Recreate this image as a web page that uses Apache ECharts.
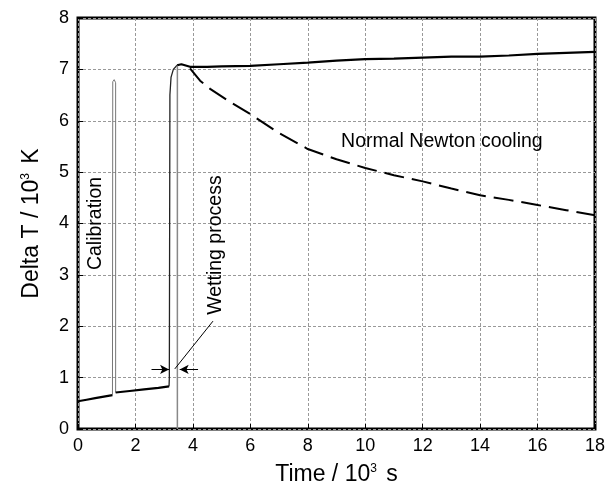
<!DOCTYPE html>
<html>
<head>
<meta charset="utf-8">
<script src="https://cdn.jsdelivr.net/npm/echarts@6/dist/echarts.min.js"></script>
<style>
  html, body { margin: 0; padding: 0; background: #fff; }
  #chart { width: 608px; height: 492px; }
</style>
</head>
<body>
<div id="chart"></div>
<script>
// time in 10^3 s, delta T in 10^3 K
const baseT1 = [0, 0.3, 0.6, 0.9, 1.2];
const baseV1 = [0.54, 0.57, 0.6, 0.63, 0.66];
const calibT = [1.2, 1.21, 1.26, 1.31, 1.31];
const calibV = [0.66, 6.76, 6.8, 6.74, 0.71];
const baseT2 = [1.31, 1.8, 2.3, 2.8, 3.17];
const baseV2 = [0.71, 0.74, 0.77, 0.8, 0.83];
const riseT = [3.17, 3.18, 3.2, 3.24, 3.32, 3.45];
const riseV = [0.83, 1.0, 6.5, 6.85, 7.0, 7.08];
const warmT = [3.45, 3.6, 3.9, 4.5, 5, 6, 7, 8, 9, 10, 11, 12, 13, 14, 15, 16, 17, 18];
const warmV = [7.08, 7.1, 7.05, 7.05, 7.06, 7.07, 7.1, 7.13, 7.17, 7.2, 7.21, 7.23, 7.25, 7.25, 7.27, 7.3, 7.32, 7.34];
const coolT = [3.9, 4.25, 4.6, 5.2, 6, 7, 8, 9, 10, 11, 12, 13, 14, 15, 16, 17, 18];
const coolV = [7.02, 6.78, 6.62, 6.4, 6.13, 5.76, 5.45, 5.25, 5.08, 4.94, 4.82, 4.68, 4.55, 4.46, 4.36, 4.26, 4.16];
const wetT = [3.46, 3.46];
const wetV = [7.07, 0];
// annotation arrows [from, to]
const arrows = [
  [[2.56, 1.16], [3.17, 1.16]],
  [[4.18, 1.16], [3.54, 1.16]]
];
const leader = [[4.7, 2.1], [3.37, 1.17]];
const notes = [
  { text: "Calibration", x: 0.63, y: 4.0, rot: 90 },
  { text: "Wetting process", x: 4.79, y: 3.58, rot: 90 },
  { text: "Normal Newton cooling", x: 12.67, y: 5.6, rot: 0 }
];

const zip = (t, v) => t.map((x, i) => [x, v[i]]);
const font = "Liberation Sans, Arial, sans-serif";

const chart = echarts.init(document.getElementById("chart"));

function lineSeries(t, v, color, width, type) {
  return {
    type: "line",
    data: zip(t, v),
    showSymbol: false,
    symbol: "none",
    animation: false,
    lineStyle: { color: color, width: width, type: type || "solid" },
    z: 3
  };
}

const titleStyle = {
  fontFamily: font, fontSize: 23, color: "#000",
  rich: { sup: { fontSize: 12, fontFamily: font, color: "#000", verticalAlign: "bottom", padding: [0, 3, 12, 0] } }
};

chart.setOption({
  animation: false,
  grid: {
    left: 78, right: 11, top: 18, bottom: 63,
    show: true, borderColor: "#000", borderWidth: 3
  },
  xAxis: {
    type: "value",
    min: 0, max: 18, interval: 2,
    name: "Time / 10{sup|3} s",
    nameLocation: "middle",
    nameGap: 34,
    nameTextStyle: titleStyle,
    axisLine: { show: false },
    axisTick: { inside: true, length: 5, lineStyle: { color: "#000" } },
    axisLabel: { fontFamily: font, fontSize: 18, color: "#000", margin: 8 },
    splitLine: { lineStyle: { color: "#999", type: [3, 2], width: 1 } }
  },
  yAxis: {
    type: "value",
    min: 0, max: 8, interval: 1,
    name: "Delta T / 10{sup|3} K",
    nameLocation: "middle",
    nameGap: 34,
    nameTextStyle: titleStyle,
    axisLine: { show: false },
    axisTick: { inside: true, length: 5, lineStyle: { color: "#000" } },
    axisLabel: { fontFamily: font, fontSize: 18, color: "#000", margin: 9 },
    splitLine: { lineStyle: { color: "#999", type: [3, 2], width: 1 } }
  },
  series: [
    lineSeries(baseT1, baseV1, "#000", 2.2),
    lineSeries(calibT, calibV, "#777", 1),
    lineSeries(baseT2, baseV2, "#000", 2.2),
    lineSeries(riseT, riseV, "#222", 1.3),
    lineSeries(warmT, warmV, "#000", 2.2),
    lineSeries(coolT, coolV, "#000", 2, [20, 8]),
    lineSeries(wetT, wetV, "#888", 1.5),
    {
      type: "line",
      data: [],
      markLine: {
        silent: true,
        animation: false,
        symbol: ["none", "arrow"],
        symbolSize: [7, 9],
        label: { show: false },
        lineStyle: { color: "#000", width: 1, type: "solid" },
        data: arrows.map(a => [{ coord: a[0] }, { coord: a[1] }])
          .concat([[{ coord: leader[0], symbol: "none" }, { coord: leader[1], symbol: "none" }]])
      }
    },
    {
      type: "scatter",
      symbolSize: 0,
      silent: true,
      itemStyle: { opacity: 1, color: "#000" },
      data: notes.map(n => ({
        value: [n.x, n.y],
        label: {
          show: true,
          position: "inside",
          formatter: n.text,
          rotate: n.rot,
          fontFamily: font,
          fontSize: 19.5,
          color: "#000",
          opacity: 1,
          textBorderWidth: 0
        }
      }))
    }
  ]
});
</script>
</body>
</html>
